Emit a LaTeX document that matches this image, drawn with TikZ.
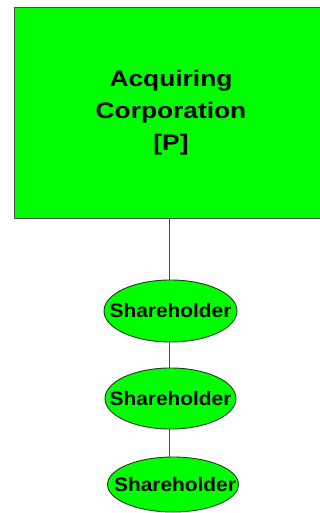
\documentclass[tikz,border=0pt]{standalone}
\usepackage{fontspec}
\setmainfont{Liberation Sans}
\usetikzlibrary{shapes.geometric}
\definecolor{boxgreen}{HTML}{00FF00}
\definecolor{edgegray}{HTML}{4A4A4A}
\definecolor{ellborder}{HTML}{1E3A1E}
\tikzset{
  corpbox/.style={draw=edgegray, line width=0.9pt, fill=boxgreen, minimum width=314pt, minimum height=211pt, inner sep=0pt},
  sharebox/.style={ellipse, draw=ellborder, line width=0.9pt, fill=boxgreen, inner sep=0pt},
  sharetext/.style={inner sep=0pt, font=\fontsize{19.5}{22}\selectfont\bfseries},
  link/.style={draw=edgegray, line width=0.9pt}
}
\begin{document}
\begin{tikzpicture}[x=1pt,y=-1pt]
\useasboundingbox (0,0) rectangle (320,513);
\clip (0,0) rectangle (320,513);
\node[corpbox] (corp) at (171,112.5) {\fontsize{22.5}{32}\selectfont\bfseries\scalebox{1.17}[1]{\begin{tabular}{@{}c@{}}Acquiring\\Corporation\\{[P]}\end{tabular}}};
\node[sharebox, minimum width=133pt, minimum height=62pt] (s1) at (170.5,311) {};
\node[sharetext] (s1t) at (s1) {\scalebox{1.07}[1]{Shareholder}};
\node[sharebox, minimum width=131pt, minimum height=61pt] (s2) at (170.5,398.5) {};
\node[sharetext] (s2t) at (s2) {\scalebox{1.07}[1]{Shareholder}};
\node[sharebox, minimum width=131pt, minimum height=55pt] (s3) at (173,484.5) {};
\node[sharetext] (s3t) at ([xshift=2pt]s3.center) {\scalebox{1.07}[1]{Shareholder}};
\coordinate (c0) at (169,218);
\draw[link] (c0) -- (c0 |- s1.north);
\draw[link] (c0 |- s1.south) -- (c0 |- s2.north);
\draw[link] (c0 |- s2.south) -- (c0 |- s3.north);
\end{tikzpicture}
\end{document}
